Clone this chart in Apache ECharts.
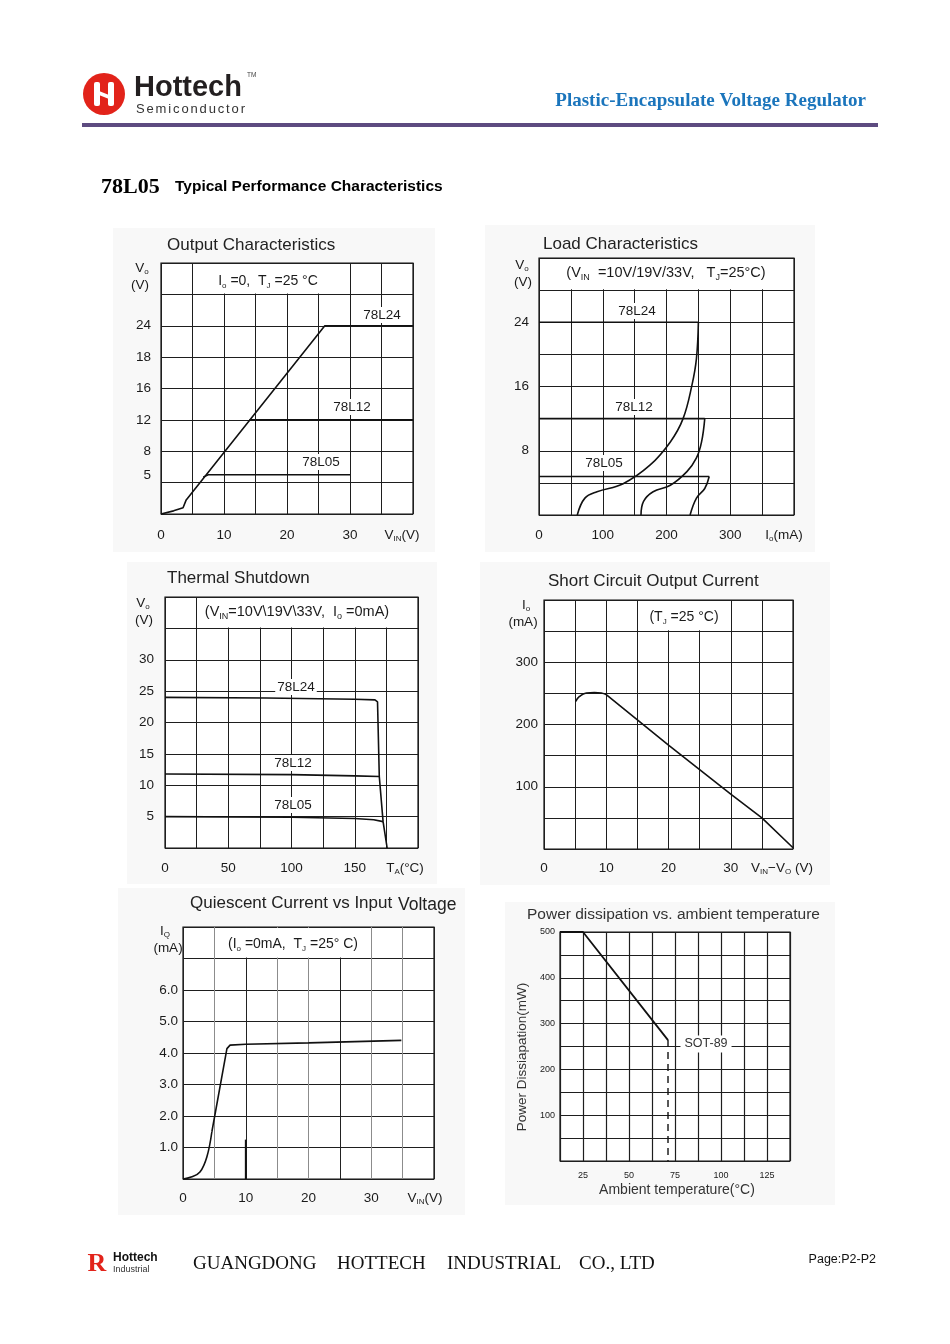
<!DOCTYPE html>
<html>
<head>
<meta charset="utf-8">
<title>78L05 Typical Performance Characteristics</title>
<script src="https://cdn.jsdelivr.net/npm/echarts@6/dist/echarts.min.js"></script>
<style>
  html, body { margin: 0; padding: 0; background: #fff; }
  #page { width: 950px; height: 1344px; }
</style>
</head>
<body>
<div id="page"></div>
<script>
// ---- data ----

// Output Characteristics: Vo (V) vs Vin (V)
const outTicksX = [0, 10, 20, 30];
const outLabelsX = ['0', '10', '20', '30'];
const outTicksY = [5, 8, 12, 16, 20, 24];
const outLabelsY = ['5', '8', '12', '16', '18', '24'];   // sheet prints "18" on the 20 V line
const out78L24 = [[0, 0], [2, 0.4], [3.5, 0.8], [4, 1.8], [26, 24], [40, 24]];
const out78L12 = [[14, 12], [40, 12]];
const out78L05 = [[6.7, 4.7], [7.5, 5], [30, 5]];

// Load Characteristics: Vo (V) vs Io (mA)
const loadTicksX = [0, 100, 200, 300];
const loadLabelsX = ['0', '100', '200', '300'];
const loadTicksY = [8, 16, 24];
const loadLabelsY = ['8', '16', '24'];
const load78L24 = [[0, 24], [250, 24]];
const load78L24Drop = [[250, 24], [247, 19.5], [240, 16.2], [226, 12], [206, 9.1], [174, 6.2], [132, 3.9], [91, 2.9], [72, 2.1], [60, 0]];
const load78L12 = [[0, 12], [260, 12]];
const load78L12Drop = [[260, 12], [255, 9.1], [247, 7.1], [232, 5.4], [206, 3.7], [179, 2.9], [164, 1.7], [160, 0]];
const load78L05 = [[0, 4.8], [267, 4.8]];
const load78L05Drop = [[267, 4.8], [260, 3.3], [247, 2.1], [237, 0]];

// Thermal Shutdown: Vo (V) vs TA (°C)
const thTicksX = [0, 50, 100, 150];
const thLabelsX = ['0', '50', '100', '150'];
const thTicksY = [5, 10, 15, 20, 25, 30];
const thLabelsY = ['5', '10', '15', '20', '25', '30'];
const th78L24 = [[0, 24], [80, 23.9], [150, 23.7], [166, 23.6], [168, 23.3], [169.4, 11.4], [172.4, 4.2], [175.6, 0]];
const th78L12 = [[0, 11.8], [100, 11.7], [150, 11.5], [169.4, 11.4]];
const th78L05 = [[0, 5], [100, 4.9], [150, 4.7], [165, 4.5], [172.4, 4.2]];

// Short Circuit Output Current: Io (mA) vs Vin-Vo (V)
const scTicksX = [0, 10, 20, 30];
const scLabelsX = ['0', '10', '20', '30'];
const scTicksY = [100, 200, 300];
const scLabelsY = ['100', '200', '300'];
const scHump = [[5.1, 237], [5.7, 245], [6.8, 250.5], [8.1, 251.5], [9.2, 250.5], [10, 248]];
const scSlope = [[10, 248], [20, 167], [30, 88], [35, 50], [40, 2]];

// Quiescent Current: IQ (mA) vs Vin (V)
const qTicksX = [0, 10, 20, 30];
const qLabelsX = ['0', '10', '20', '30'];
const qTicksY = [1, 2, 3, 4, 5, 6];
const qLabelsY = ['1.0', '2.0', '3.0', '4.0', '5.0', '6.0'];
const qRise = [[0, 0], [1.3, 0.06], [2.7, 0.22], [3.8, 0.7], [4.6, 1.5]];
const qFlat = [[4.6, 1.5], [7, 4.14], [7.5, 4.25], [10, 4.28], [20, 4.32], [34.8, 4.4]];
const qMark = [[10, 0], [10, 1.25]];

// Power dissipation: Pd (mW) vs ambient temperature (°C)
const pdTicksX = [25, 50, 75, 100, 125];
const pdLabelsX = ['25', '50', '75', '100', '125'];
const pdTicksY = [100, 200, 300, 400, 500];
const pdLabelsY = ['100', '200', '300', '400', '500'];
const pdSot89 = [[12.5, 500], [25, 500], [71.2, 264]];
const pdSot89Drop = [[71.2, 264], [71.2, 0]];

// ---- layout ----
const FONT = '"Liberation Sans", Arial, Helvetica, sans-serif';
const SERIF = '"Liberation Serif", "Times New Roman", serif';
const INK = '#1b1b1b';

const frames = [
  { g: { left: 161, top: 263, width: 252, height: 251 }, x: [0, 40, 5], y: [0, 32, 4] },
  { g: { left: 539, top: 258, width: 255, height: 257 }, x: [0, 400, 50], y: [0, 32, 4] },
  { g: { left: 165, top: 597, width: 253, height: 251 }, x: [0, 200, 25], y: [0, 40, 5] },
  { g: { left: 544, top: 600, width: 249, height: 249 }, x: [0, 40, 5], y: [0, 400, 50] },
  { g: { left: 183, top: 927, width: 251, height: 252 }, x: [0, 40, 5], y: [0, 8, 1] },
  { g: { left: 560, top: 932, width: 230, height: 229 }, x: [12.5, 137.5, 12.5], y: [0, 500, 50] }
];

function axis(gi, dim, ticks, labels, o = {}) {
  const r = frames[gi][dim];
  return {
    type: 'value', gridIndex: gi, min: r[0], max: r[1], interval: r[2],
    axisLine: { show: false }, axisTick: { show: false },
    splitLine: { show: true, lineStyle: { color: o.lineColor || '#1e1e1e', width: o.lineWidth || 1 } },
    axisLabel: {
      customValues: ticks,
      formatter: v => { const i = ticks.indexOf(v); return i < 0 ? '' : labels[i]; },
      color: INK, fontFamily: FONT, fontSize: o.fontSize || 13.5, margin: o.margin
    }
  };
}

function curve(gi, data, o = {}) {
  return {
    type: 'line', xAxisIndex: gi, yAxisIndex: gi, data, symbol: 'none',
    smooth: o.smooth || false, silent: true, z: 3, clip: false,
    lineStyle: { color: '#111', width: o.width || 1.6, type: o.dash ? [7, 5] : 'solid' }
  };
}

// pixel position of a value pair inside a frame (decorations only)
function px(gi, x, y) {
  const f = frames[gi];
  return [
    f.g.left + (x - f.x[0]) / (f.x[1] - f.x[0]) * f.g.width,
    f.g.top + (f.y[1] - y) / (f.y[1] - f.y[0]) * f.g.height
  ];
}
function blank(gi, x0, x1, y0, y1) {
  const a = px(gi, x0, y1), b = px(gi, x1, y0);
  return { type: 'rect', z: 1, silent: true,
    shape: { x: a[0] + 1, y: a[1] + 1, width: b[0] - a[0] - 2, height: b[1] - a[1] - 2 },
    style: { fill: '#fff' } };
}

function rich(size) {
  return {
    n: { fontFamily: FONT, fontSize: size, fill: INK, lineHeight: size + 3 },
    s: { fontFamily: FONT, fontSize: Math.round(size * 0.6), fill: INK, lineHeight: Math.round(size * 0.6), verticalAlign: 'bottom' }
  };
}

function txt(x, y, text, o = {}) {
  const align = o.align || 'center';
  return {
    type: 'text', x, y, z: o.z || 5, rotation: o.rotation || 0, silent: true,
    style: {
      text, fill: o.fill || INK,
      fontFamily: o.family || FONT, fontSize: o.size || 13.5, fontWeight: o.weight || 'normal',
      align, verticalAlign: 'middle', textAlign: align, textVerticalAlign: 'middle',
      rich: o.rich, backgroundColor: o.bg, padding: o.pad
    }
  };
}
const sub = (x, y, text, size = 13.5) => txt(x, y, text, { rich: rich(size) });
const tag = (x, y, text) => txt(x, y, text, { bg: '#fff', pad: [1, 2], z: 1, size: 13.5 });

// letter-spaced word spread over a given width
function spaced(x, y, s, total, o) {
  const ctx = document.createElement('canvas').getContext('2d');
  ctx.font = `${o.size}px ${FONT}`;
  const chars = [...s];
  const w = chars.map(c => ctx.measureText(c).width);
  const gap = (total - w.reduce((a, b) => a + b, 0)) / (chars.length - 1);
  let cx = x;
  return chars.map((c, i) => { const e = txt(cx, y, c, Object.assign({ align: 'left' }, o)); cx += w[i] + gap; return e; });
}

const panels = [
  [113, 228, 322, 324], [485, 225, 330, 327], [127, 562, 310, 322],
  [480, 562, 350, 323], [118, 888, 347, 327], [505, 902, 330, 303]
].map(p => ({ type: 'rect', z: -5, silent: true, shape: { x: p[0], y: p[1], width: p[2], height: p[3] }, style: { fill: '#f8f8f8' } }));

const graphics = [
  ...panels,
  // header
  { type: 'circle', z: 5, shape: { cx: 104, cy: 94, r: 21 }, style: { fill: '#e2231a' } },
  { type: 'rect', z: 6, shape: { x: 94, y: 82, width: 6, height: 24, r: 2 }, style: { fill: '#fff' } },
  { type: 'rect', z: 6, shape: { x: 108, y: 82, width: 6, height: 24, r: 2 }, style: { fill: '#fff' } },
  { type: 'polygon', z: 6, shape: { points: [[99, 91], [109, 95], [109, 99], [99, 95]] }, style: { fill: '#fff' } },
  txt(134, 88, 'Hottech', { align: 'left', size: 29, weight: 'bold', fill: '#231f20' }),
  txt(247, 75, 'TM', { align: 'left', size: 6.5, fill: '#444' }),
  ...spaced(136, 109, 'Semiconductor', 109, { size: 13, fill: '#333' }),
  txt(866, 101, 'Plastic-Encapsulate Voltage Regulator', { align: 'right', size: 19, weight: 'bold', family: SERIF, fill: '#1b75bc' }),
  { type: 'line', z: 5, shape: { x1: 82, y1: 125, x2: 878, y2: 125 }, style: { stroke: '#5d4b80', lineWidth: 4 } },
  txt(101, 187, '78L05', { align: 'left', size: 22, weight: 'bold', family: SERIF, fill: '#000' }),
  txt(175, 187, 'Typical Performance Characteristics', { align: 'left', size: 15.5, weight: 'bold', fill: '#000' }),

  // chart titles
  txt(167, 245, 'Output Characteristics', { align: 'left', size: 17, fill: '#222' }),
  txt(543, 244, 'Load Characteristics', { align: 'left', size: 17, fill: '#222' }),
  txt(167, 578, 'Thermal Shutdown', { align: 'left', size: 17, fill: '#222' }),
  txt(548, 581, 'Short Circuit Output Current', { align: 'left', size: 17, fill: '#222' }),
  txt(190, 903, 'Quiescent Current vs Input', { align: 'left', size: 17, fill: '#222' }),
  txt(398, 905, 'Voltage', { align: 'left', size: 17.5, fill: '#222' }),
  txt(527, 915, 'Power dissipation vs. ambient temperature', { align: 'left', size: 15.5, fill: '#333' }),

  // caption boxes in the top row of the grids
  blank(0, 5, 30, 28, 32), blank(1, 0, 400, 28, 32), blank(2, 25, 200, 35, 40),
  blank(3, 15, 30, 350, 400), blank(4, 5, 30, 7, 8),
  sub(268, 281, '{n|I}{s|o}{n| =0,  T}{s|J}{n| =25 °C}', 14),
  sub(666, 273, '{n|(V}{s|IN}{n|  =10V/19V/33V,   T}{s|J}{n|=25°C)}', 14.5),
  sub(297, 612, '{n|(V}{s|IN}{n|=10V\\19V\\33V,  I}{s|o}{n| =0mA)}', 14.5),
  sub(684, 617, '{n|(T}{s|J}{n| =25 °C)}', 14),
  sub(293, 944, '{n|(I}{s|o}{n| =0mA,  T}{s|J}{n| =25° C)}', 14),

  // axis names
  sub(142, 268, '{n|V}{s|o}'), txt(140, 285, '(V)'),
  sub(402, 535, '{n|V}{s|IN}{n|(V)}'),
  sub(522, 265, '{n|V}{s|o}'), txt(523, 282, '(V)'),
  sub(784, 535, '{n|I}{s|o}{n|(mA)}'),
  sub(143, 603, '{n|V}{s|o}'), txt(144, 620, '(V)'),
  sub(405, 868, '{n|T}{s|A}{n|(°C)}'),
  sub(526, 605, '{n|I}{s|o}'), txt(523, 622, '(mA)'),
  sub(782, 868, '{n|V}{s|IN}{n|−V}{s|O}{n| (V)}'),
  sub(165, 931, '{n|I}{s|Q}'), txt(168, 948, '(mA)'),
  sub(425, 1198, '{n|V}{s|IN}{n|(V)}'),
  txt(522, 1057, 'Power Dissiapation(mW)', { size: 13.5, fill: '#333', rotation: Math.PI / 2 }),
  txt(677, 1190, 'Ambient temperature(°C)', { size: 14, fill: '#333' }),

  // curve tags
  tag(382, 315, '78L24'), tag(352, 407, '78L12'), tag(321, 462, '78L05'),
  tag(637, 311, '78L24'), tag(634, 407, '78L12'), tag(604, 463, '78L05'),
  tag(296, 687, '78L24'), tag(293, 763, '78L12'), tag(293, 805, '78L05'),
  txt(706, 1044, 'SOT-89', { bg: '#fff', pad: [2, 4], z: 1, size: 12.5, fill: '#333' }),

  // footer
  txt(97, 1264, 'R', { size: 26, weight: 'bold', family: SERIF, fill: '#e2231a' }),
  txt(113, 1258, 'Hottech', { align: 'left', size: 12, weight: 'bold', fill: '#111' }),
  txt(113, 1270, 'Industrial', { align: 'left', size: 9, fill: '#333' }),
  txt(193, 1264, 'GUANGDONG', { align: 'left', size: 19, family: SERIF, fill: '#111' }),
  txt(337, 1264, 'HOTTECH', { align: 'left', size: 19, family: SERIF, fill: '#111' }),
  txt(447, 1264, 'INDUSTRIAL', { align: 'left', size: 19, family: SERIF, fill: '#111' }),
  txt(579, 1264, 'CO., LTD', { align: 'left', size: 19, family: SERIF, fill: '#111' }),
  txt(876, 1260, 'Page:P2-P2', { align: 'right', size: 12.5, fill: '#111' })
];

const qLineColors = ['#222', '#8c8c8c', '#222', '#8c8c8c', '#8c8c8c', '#222', '#8c8c8c', '#8c8c8c', '#222'];

const option = {
  animation: false,
  backgroundColor: '#fff',
  grid: frames.map(f => Object.assign({ show: true, backgroundColor: '#fff', borderColor: '#111', borderWidth: 1.2 }, f.g)),
  xAxis: [
    axis(0, 'x', outTicksX, outLabelsX, { margin: 14 }),
    axis(1, 'x', loadTicksX, loadLabelsX, { margin: 13 }),
    axis(2, 'x', thTicksX, thLabelsX, { margin: 13 }),
    axis(3, 'x', scTicksX, scLabelsX, { margin: 12 }),
    axis(4, 'x', qTicksX, qLabelsX, { margin: 12, lineColor: qLineColors }),
    axis(5, 'x', pdTicksX, pdLabelsX, { margin: 10, fontSize: 9, lineWidth: 1.2 })
  ],
  yAxis: [
    axis(0, 'y', outTicksY, outLabelsY, { margin: 10 }),
    axis(1, 'y', loadTicksY, loadLabelsY, { margin: 10 }),
    axis(2, 'y', thTicksY, thLabelsY, { margin: 11 }),
    axis(3, 'y', scTicksY, scLabelsY, { margin: 6 }),
    axis(4, 'y', qTicksY, qLabelsY, { margin: 5 }),
    axis(5, 'y', pdTicksY, pdLabelsY, { margin: 5, fontSize: 9, lineWidth: 1.2 })
  ],
  series: [
    curve(0, out78L24), curve(0, out78L12), curve(0, out78L05),
    curve(1, load78L24), curve(1, load78L24Drop, { smooth: 0.4 }),
    curve(1, load78L12), curve(1, load78L12Drop, { smooth: 0.4 }),
    curve(1, load78L05), curve(1, load78L05Drop, { smooth: 0.4 }),
    curve(2, th78L24), curve(2, th78L12), curve(2, th78L05),
    curve(3, scHump, { smooth: 0.5 }), curve(3, scSlope),
    curve(4, qRise, { smooth: 0.4 }), curve(4, qFlat), curve(4, qMark, { width: 1.8 }),
    curve(5, pdSot89, { width: 1.8 }), curve(5, pdSot89Drop, { dash: true, width: 1.4 })
  ],
  graphic: { elements: graphics }
};

const chart = echarts.init(document.getElementById('page'));
chart.setOption(option);
</script>
</body>
</html>
